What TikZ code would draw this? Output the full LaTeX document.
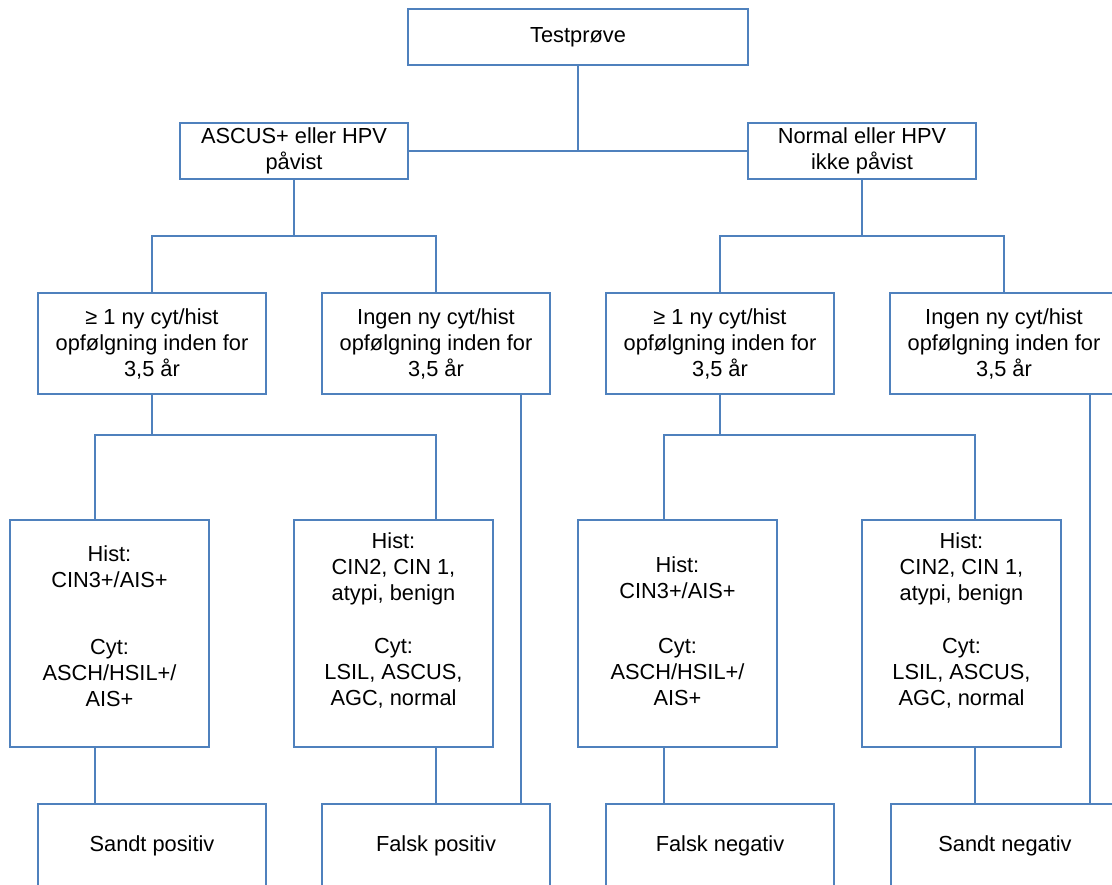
\documentclass[tikz,border=0pt]{standalone}
\usepackage{fontspec}
\setmainfont{Liberation Sans}
\definecolor{bc}{RGB}{79,129,189}
\newcommand\hbtext[2]{\raisebox{#1}[0pt][0pt]{\begin{tabular}{@{}c@{}}#2\end{tabular}}}
\begin{document}
\begin{tikzpicture}[x=1pt,y=-1pt,
  box/.style={draw=bc, line width=1.4pt, inner sep=0pt, align=center,
    font=\fontsize{21.8}{26}\selectfont, text=black},
  conn/.style={draw=bc, line width=1.4pt}]
\useasboundingbox (0,0) rectangle (1112,885);
\clip (0,0) rectangle (1112,885);
% level 0
\node[box, minimum width=340, minimum height=56] (test) at (578,37) {Testprøve};
% level 1
\node[box, minimum width=228, minimum height=56] (asc) at (294,151) {ASCUS+ eller HPV\\påvist};
\node[box, minimum width=228, minimum height=56] (nor) at (862,151) {Normal eller HPV\\ikke påvist};
% level 2
\node[box, minimum width=228, minimum height=101] (g1) at (152,343.5) {≥ 1 ny cyt/hist\\opfølgning inden for\\3,5 år};
\node[box, minimum width=228, minimum height=101] (i1) at (436,343.5) {Ingen ny cyt/hist\\opfølgning inden for\\3,5 år};
\node[box, minimum width=228, minimum height=101] (g2) at (720,343.5) {≥ 1 ny cyt/hist\\opfølgning inden for\\3,5 år};
\node[box, minimum width=228, minimum height=101] (i2) at (1004,343.5) {Ingen ny cyt/hist\\opfølgning inden for\\3,5 år};
% level 3
\node[box, minimum width=199, minimum height=227] (h1) at (109.5,633.5)
  {\hbtext{0pt}{Hist:\\CIN3+/AIS+\\[41pt]Cyt:\\ASCH/HSIL+/\\AIS+}};
\node[box, minimum width=199, minimum height=227] (h2) at (393.5,633.5)
  {\hbtext{6.6pt}{Hist:\\CIN2, CIN 1,\\atypi, benign\\[27pt]Cyt:\\LSIL, ASCUS,\\AGC, normal}};
\node[box, minimum width=199, minimum height=227] (h3) at (677.5,633.5)
  {\hbtext{-5.8pt}{Hist:\\CIN3+/AIS+\\[29pt]Cyt:\\ASCH/HSIL+/\\AIS+}};
\node[box, minimum width=199, minimum height=227] (h4) at (961.5,633.5)
  {\hbtext{6.6pt}{Hist:\\CIN2, CIN 1,\\atypi, benign\\[27pt]Cyt:\\LSIL, ASCUS,\\AGC, normal}};
% level 4
\node[box, minimum width=228, minimum height=84] (sp) at (152,846) {Sandt positiv};
\node[box, minimum width=228, minimum height=84] (fp) at (436,846) {Falsk positiv};
\node[box, minimum width=228, minimum height=84] (fn) at (720,846) {Falsk negativ};
\node[box, minimum width=228, minimum height=84] (sn) at (1005,846) {Sandt negativ};
% connectors
\coordinate (y1) at (0,236);
\coordinate (a1) at (95,435);
\coordinate (a2) at (436,435);
\coordinate (a3) at (664,435);
\coordinate (a4) at (975,435);
\coordinate (b1) at (521,0);
\coordinate (b2) at (1090,0);
\draw[conn] (test.south) -- (test.south |- asc.east);
\draw[conn] (asc.east) -- (nor.west);
\draw[conn] (asc.south) -- (asc.south |- y1);
\draw[conn] (g1.north) -- (g1.north |- y1) -- (i1.north |- y1) -- (i1.north);
\draw[conn] (nor.south) -- (nor.south |- y1);
\draw[conn] (g2.north) -- (g2.north |- y1) -- (i2.north |- y1) -- (i2.north);
\draw[conn] (g1.south) -- (g1.south |- a1);
\draw[conn] (h1.north -| a1) -- (a1) -- (a2) -- (h2.north -| a2);
\draw[conn] (g2.south) -- (g2.south |- a3);
\draw[conn] (h3.north -| a3) -- (a3) -- (a4) -- (h4.north -| a4);
\draw[conn] (h1.south -| a1) -- (sp.north -| a1);
\draw[conn] (h2.south -| a2) -- (fp.north -| a2);
\draw[conn] (h3.south -| a3) -- (fn.north -| a3);
\draw[conn] (h4.south -| a4) -- (sn.north -| a4);
\draw[conn] (i1.south -| b1) -- (fp.north -| b1);
\draw[conn] (i2.south -| b2) -- (sn.north -| b2);
\end{tikzpicture}
\end{document}
